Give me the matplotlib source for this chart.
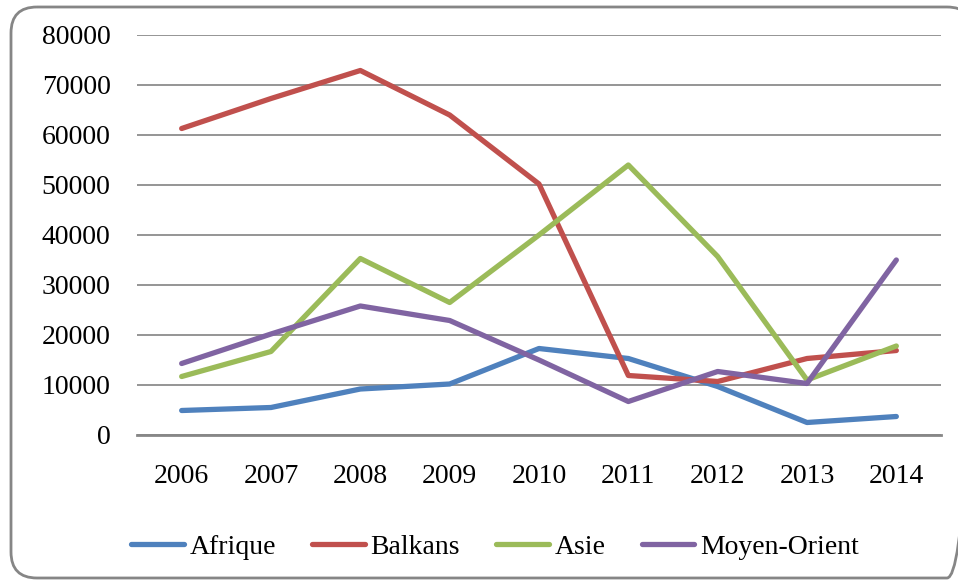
import matplotlib.pyplot as plt
from matplotlib.patches import FancyBboxPatch

years = ["2006", "2007", "2008", "2009", "2010", "2011", "2012", "2013", "2014"]
afrique = [4900, 5500, 9200, 10200, 17300, 15300, 9700, 2500, 3700]
balkans = [61300, 67300, 72900, 64000, 50200, 11900, 10700, 15300, 16900]
asie = [11700, 16700, 35300, 26500, 40000, 54000, 35700, 11000, 17800]
moyen_orient = [14300, 20200, 25800, 22900, 15000, 6700, 12700, 10300, 35000]

plt.rcParams["font.family"] = ["Liberation Serif", "DejaVu Serif"]

fig = plt.figure(figsize=(9.58, 5.8), dpi=100)

# cadre arrondi autour du graphique (coordonnées en pixels)
fond = fig.add_axes([0, 0, 1, 1])
fond.set_xlim(0, 958)
fond.set_ylim(580, 0)
fond.axis("off")
cadre = FancyBboxPatch((11, 7), 962, 571,
                       boxstyle="round,pad=0,rounding_size=26",
                       facecolor="none", edgecolor="#868686",
                       linewidth=2, clip_on=False)
fond.add_patch(cadre)

ax = fig.add_axes([137 / 958, 145 / 580, 804 / 958, 400 / 580])

x = list(range(len(years)))
series = [("Afrique", afrique, "#4F81BD"),
          ("Balkans", balkans, "#C0504D"),
          ("Asie", asie, "#9BBB59"),
          ("Moyen-Orient", moyen_orient, "#8064A2")]
for nom, vals, couleur in series:
    ax.plot(x, vals, color=couleur, linewidth=3.8, label=nom,
            solid_capstyle="round", solid_joinstyle="round", zorder=3)

ax.set_xlim(-0.5, 8.5)
ax.set_ylim(0, 80000)
ax.set_yticks(range(0, 80001, 10000))
ax.set_xticks(x)
ax.set_xticklabels(years)
ax.yaxis.grid(True, color="#8c8c8c", linewidth=1.3)
ax.set_axisbelow(True)

for s in ["top", "right", "left"]:
    ax.spines[s].set_visible(False)
ax.spines["bottom"].set_color("#878787")
ax.spines["bottom"].set_linewidth(2)

ax.tick_params(axis="both", length=0, labelsize=20)
ax.tick_params(axis="y", pad=19)
ax.tick_params(axis="x", pad=21)

ax.legend(loc="center", bbox_to_anchor=(495 / 958, 33 / 580),
          bbox_transform=fig.transFigure, ncol=4, frameon=False,
          fontsize=20, handlelength=1.9, handletextpad=0.2,
          columnspacing=1.3)

fig.savefig("out.png", dpi=100)
